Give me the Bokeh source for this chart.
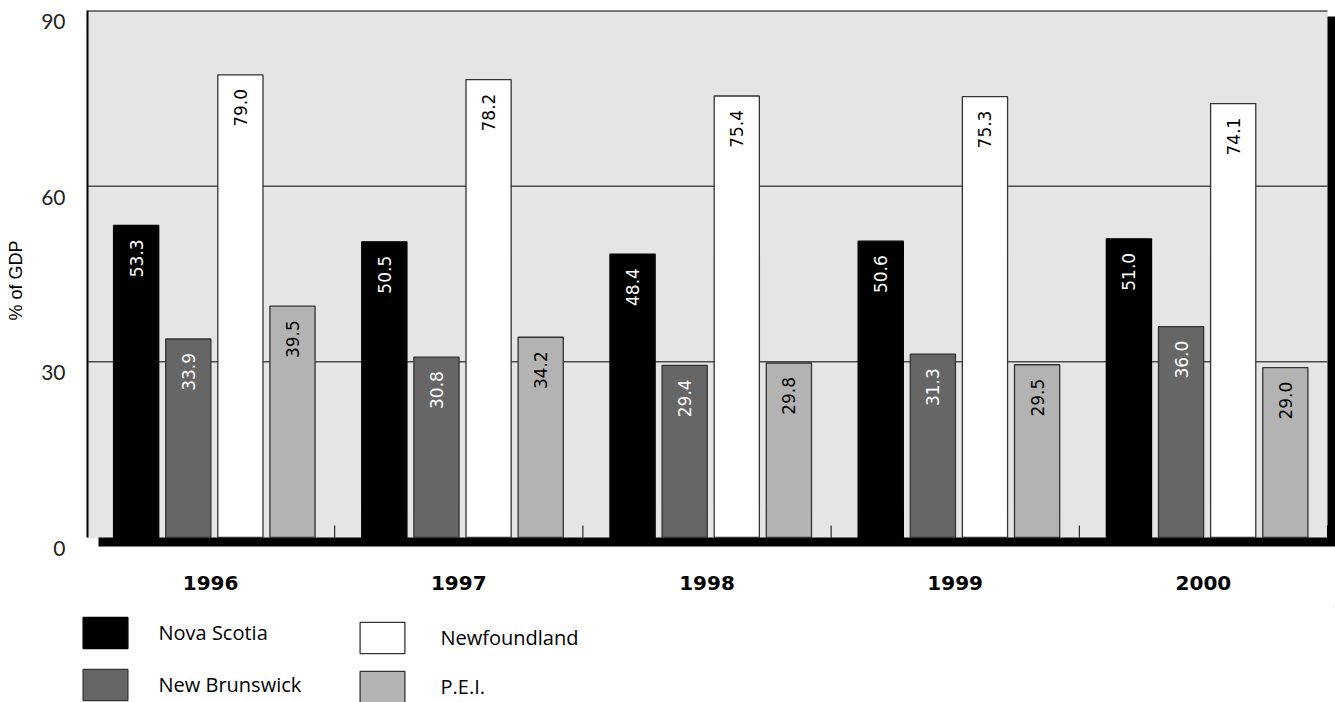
import math

from bokeh.plotting import figure
from bokeh.layouts import column
from bokeh.models import (ColumnDataSource, FixedTicker, Legend, LegendItem, LinearAxis,
                          Range1d)
from bokeh.core.properties import value
from bokeh.embed import file_html
from bokeh.resources import INLINE

# ---- data -------------------------------------------------------------
years = ["1996", "1997", "1998", "1999", "2000"]
provinces = ["Nova Scotia", "New Brunswick", "Newfoundland", "P.E.I."]
nova_scotia = [53.3, 50.5, 48.4, 50.6, 51.0]
new_brunswick = [33.9, 30.8, 29.4, 31.3, 36.0]
newfoundland = [79.0, 78.2, 75.4, 75.3, 74.1]
pei = [39.5, 34.2, 29.8, 29.5, 29.0]
y_ticks = [0, 30, 60, 90]
y_title = "% of GDP"

series = [nova_scotia, new_brunswick, newfoundland, pei]

# ---- styling ----------------------------------------------------------
fills = ["#000000", "#666666", "#ffffff", "#b3b3b3"]
outlines = ["#000000", "#333333", "#333333", "#333333"]
text_colors = ["#ffffff", "#ffffff", "#000000", "#000000"]
offsets = [-0.30, -0.09, 0.12, 0.33]
bar_w = 0.182

W = 1335
CHART_H = 605
LEGEND_H = 702 - CHART_H

n = len(years)
ppu = 527 / 90                  # pixels per y unit
floor = -9 / ppu                # depth of the drop shadow under the panel
y_start = -13 / ppu             # a little room below the shadow
label_shift = 11 / ppu          # y tick labels sit just under their rule
x_end = n + 8 / 248.2           # room for the shadow on the right

p = figure(width=W, height=CHART_H, output_backend="svg", toolbar_location=None,
           x_range=Range1d(0, x_end), y_range=Range1d(y_start, 90),
           y_axis_location=None,
           min_border_left=86, min_border_right=0, min_border_top=10,
           min_border_bottom=CHART_H - 550)
p.frame_align = False
p.extra_y_ranges = {"ticks": Range1d(y_start + label_shift, 90 + label_shift)}
p.background_fill_color = "white"
p.border_fill_color = "white"
p.outline_line_color = None
p.xgrid.visible = False

# panel with an offset black drop shadow
p.quad(left=[12 / 248.2], right=[x_end + 1], bottom=[floor], top=[90 - 6 / ppu],
       fill_color="black", line_color=None)
p.quad(left=[0], right=[n], bottom=[0], top=[90], fill_color="#e5e5e5", line_color=None)

# horizontal rules at the inner ticks
inner = [t for t in y_ticks if 0 < t < 90]
p.segment(x0=[0] * len(inner), x1=[n] * len(inner), y0=inner, y1=inner,
          line_color="black", line_width=1)
# frame edges
p.segment(x0=[0], x1=[n], y0=[90], y1=[90], line_color="black", line_width=2)
p.segment(x0=[0], x1=[0], y0=[0], y1=[90], line_color="black", line_width=4)
# small dividers between year groups
div = list(range(1, n + 1))
p.segment(x0=div, x1=div, y0=[0] * n, y1=[12 / ppu] * n,
          line_color="black", line_width=1)

for name, vals, fc, lc, tc, off in zip(provinces, series, fills, outlines, text_colors, offsets):
    src = ColumnDataSource(dict(x=[i + 0.5 + off for i in range(n)], top=vals,
                                lab=[f"{v:.1f}" for v in vals]))
    p.vbar(x="x", top="top", bottom=0, width=bar_w, source=src,
           fill_color=fc, line_color=lc, line_width=1.3)
    p.text(x="x", y="top", text="lab", source=src, angle=math.pi / 2,
           text_align="right", text_baseline="middle", y_offset=14,
           text_color=tc, text_font=value("DejaVu Sans"), text_font_size="17px")

# ---- axes -------------------------------------------------------------
ya = LinearAxis(y_range_name="ticks", ticker=FixedTicker(ticks=y_ticks))
ya.axis_line_color = None
ya.major_tick_line_color = None
ya.minor_tick_line_color = None
ya.major_tick_out = 0
ya.major_tick_in = 0
ya.major_label_standoff = 21
ya.major_label_text_font = "Lato"
ya.major_label_text_font_size = "21px"
ya.major_label_text_color = "#222222"
ya.axis_label = y_title
ya.axis_label_standoff = 12
ya.axis_label_text_font = "Liberation Sans"
ya.axis_label_text_font_size = "18px"
ya.axis_label_text_font_style = "normal"
ya.axis_label_text_color = "black"
p.add_layout(ya, "left")

xa = p.xaxis[0]
xa.ticker = FixedTicker(ticks=[i + 0.5 for i in range(n)])
xa.major_label_overrides = {i + 0.5: y for i, y in enumerate(years)}
xa.axis_line_color = None
xa.major_tick_line_color = None
xa.minor_tick_line_color = None
xa.major_tick_out = 0
xa.major_tick_in = 0
xa.major_label_standoff = 25
xa.major_label_text_font = "DejaVu Sans"
xa.major_label_text_font_style = "bold"
xa.major_label_text_font_size = "20px"
xa.major_label_text_color = "black"

# ---- legend strip under the chart -------------------------------------
lg = figure(width=W, height=LEGEND_H, output_backend="svg", toolbar_location=None,
            x_range=Range1d(0, 1), y_range=Range1d(0, 1),
            x_axis_location=None, y_axis_location=None,
            min_border=0, min_border_left=0, min_border_right=0,
            min_border_top=0, min_border_bottom=0)
lg.frame_align = False
lg.background_fill_color = "white"
lg.border_fill_color = "white"
lg.outline_line_color = None
lg.xgrid.visible = False
lg.ygrid.visible = False

# key renderers: one bar each, parked far outside the strip's visible range
keys = []
for fc, lc in zip(fills, outlines):
    keys.append(lg.vbar(x=[50], bottom=[50], top=[60], width=0.1, fill_color=fc,
                        line_color=lc, line_width=1.3))


def make_legend(idx, loc, spacing, standoff):
    return Legend(items=[LegendItem(label=provinces[i], renderers=[keys[i]]) for i in idx],
                  location=loc, orientation="vertical",
                  glyph_width=56, glyph_height=39, spacing=spacing,
                  label_standoff=standoff, padding=0, margin=0,
                  border_line_color=None, background_fill_alpha=0,
                  label_text_font="Open Sans", label_text_font_size="20px",
                  label_text_color="black")


lg.add_layout(make_legend([0, 1], (76.5, -2), 13, 26), "center")
lg.add_layout(make_legend([2, 3], (353.5, -4), 10, 31), "center")

layout = column(p, lg, spacing=0)
open("out.html", "w").write(file_html(layout, INLINE))
